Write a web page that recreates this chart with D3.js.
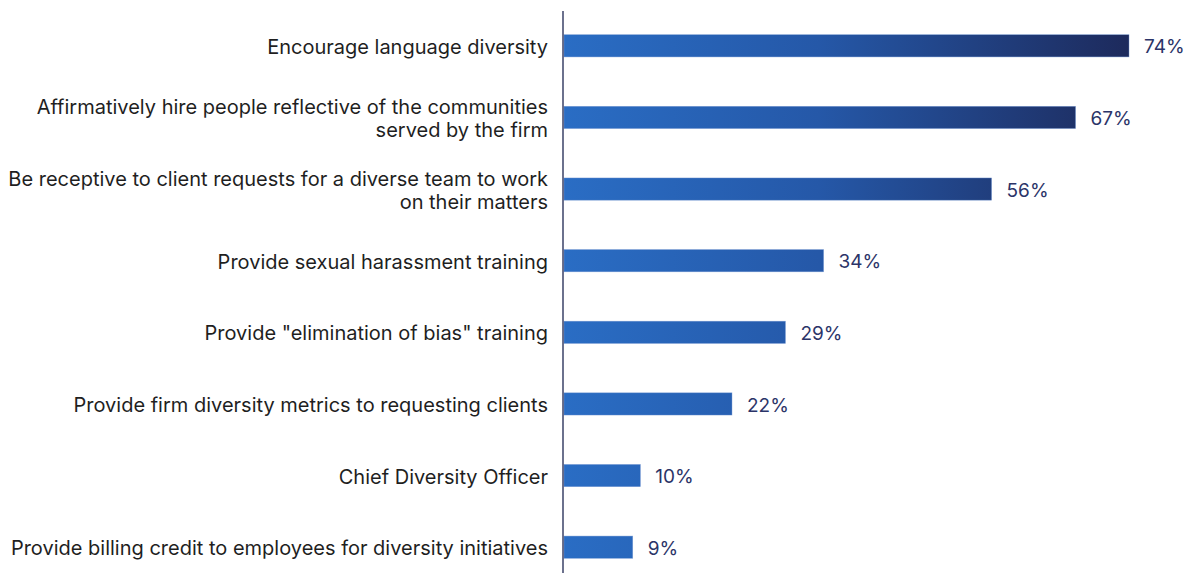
<!DOCTYPE html>
<html>
<head>
<meta charset="utf-8">
<script src="https://cdn.jsdelivr.net/npm/d3@7"></script>
<style>
  html, body { margin: 0; padding: 0; background: #fff; }
  svg { display: block; }
</style>
</head>
<body>
<svg id="chart" width="1190" height="573"></svg>
<script>
// Survey items (each label line as its own entry) and share of respondents
const categories = [
  ["Encourage language diversity"],
  ["Affirmatively hire people reflective of the communities", "served by the firm"],
  ["Be receptive to client requests for a diverse team to work", "on their matters"],
  ["Provide sexual harassment training"],
  ["Provide \"elimination of bias\" training"],
  ["Provide firm diversity metrics to requesting clients"],
  ["Chief Diversity Officer"],
  ["Provide billing credit to employees for diversity initiatives"]
];
const values = [74, 67, 56, 34, 29, 22, 10, 9];

const W = 1190, H = 573;
const axisX = 564;
const svg = d3.select("#chart");

const x = d3.scaleLinear().domain([0, 74]).range([axisX, 1129]);
const y = d3.scaleBand()
  .domain(d3.range(values.length))
  .range([10, 583])
  .paddingInner(0.69)
  .paddingOuter(0.345);

// Horizontal gradient spanning the full value range
const defs = svg.append("defs");
const grad = defs.append("linearGradient")
  .attr("id", "barGrad")
  .attr("gradientUnits", "userSpaceOnUse")
  .attr("x1", x(0)).attr("x2", x(74))
  .attr("y1", 0).attr("y2", 0);
grad.append("stop").attr("offset", "0%").attr("stop-color", "#2a6dc4");
grad.append("stop").attr("offset", "45%").attr("stop-color", "#2558a8");
grad.append("stop").attr("offset", "100%").attr("stop-color", "#1d2a5c");

const rows = svg.append("g").selectAll("g")
  .data(values)
  .join("g");

rows.append("rect")
  .attr("x", x(0))
  .attr("y", (d, i) => y(i))
  .attr("width", d => x(d) - x(0))
  .attr("height", y.bandwidth())
  .attr("fill", "url(#barGrad)")
  .attr("stroke", "#6e93d0")
  .attr("stroke-width", 0.6)
  .attr("stroke-opacity", 0.7);

// Value labels at bar ends
rows.append("text")
  .attr("x", d => x(d) + 15)
  .attr("y", (d, i) => y(i) + y.bandwidth() / 2)
  .attr("dy", "0.4em")
  .attr("font-family", "Inter, 'Noto Sans', sans-serif")
  .attr("font-size", 19)
  .attr("fill", "#2b3468")
  .text(d => d + "%");

// Category labels, right aligned against the axis
const lineH = 23;
const fs = 20;
rows.append("text")
  .attr("x", axisX - 16)
  .attr("y", (d, i) => y(i) + y.bandwidth() / 2)
  .attr("text-anchor", "end")
  .attr("font-family", "Inter, 'Noto Sans', sans-serif")
  .attr("font-size", fs)
  .attr("fill", "#1f1f1f")
  .each(function(d, i) {
    const lines = categories[i];
    const off = -(lines.length - 1) * lineH / 2;
    d3.select(this).selectAll("tspan")
      .data(lines)
      .join("tspan")
      .attr("x", axisX - 16)
      .attr("dy", (l, j) => j === 0 ? (off / fs + 0.4) + "em" : lineH + "px")
      .text(l => l);
  });

// Vertical category axis line
svg.append("line")
  .attr("x1", axisX - 1).attr("x2", axisX - 1)
  .attr("y1", 11).attr("y2", H)
  .attr("stroke", "#1d2550")
  .attr("stroke-width", 1.3);
</script>
</body>
</html>
